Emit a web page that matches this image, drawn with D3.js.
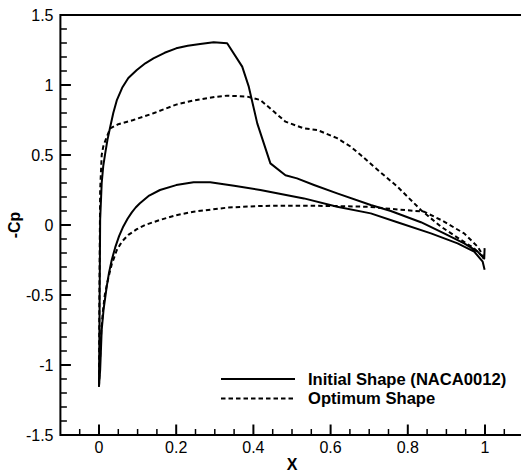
<!DOCTYPE html>
<html>
<head>
<meta charset="utf-8">
<script src="https://cdn.jsdelivr.net/npm/d3@7"></script>
<style>
  body { margin: 0; background: #fff; }
  text { font-family: "Liberation Sans", Arial, sans-serif; }
</style>
</head>
<body>
<div id="chart"></div>
<script>
// Initial shape (NACA0012), upper and lower surfaces, leading edge -> trailing edge
let initUpperX = [0, 0.001, 0.003, 0.007, 0.011, 0.016, 0.022, 0.029, 0.037, 0.046, 0.06, 0.076, 0.098, 0.12, 0.141, 0.17, 0.2, 0.23, 0.262, 0.297, 0.332, 0.371, 0.388, 0.41, 0.444, 0.483, 0.513, 0.557, 0.617, 0.704, 0.756, 0.834, 0.894, 0.946, 0.981, 0.998, 0.999];
let initUpperY = [-1.15, -0.8, 0.04, 0.3, 0.42, 0.51, 0.61, 0.7, 0.8, 0.89, 0.98, 1.05, 1.107, 1.155, 1.19, 1.23, 1.262, 1.28, 1.293, 1.305, 1.298, 1.131, 0.988, 0.726, 0.44, 0.355, 0.333, 0.286, 0.226, 0.143, 0.1, 0.02, -0.06, -0.131, -0.19, -0.24, -0.165];
let initLowerX = [0, 0.003, 0.007, 0.012, 0.02, 0.026, 0.033, 0.042, 0.052, 0.063, 0.074, 0.085, 0.095, 0.106, 0.13, 0.158, 0.2, 0.245, 0.288, 0.35, 0.418, 0.531, 0.617, 0.704, 0.773, 0.86, 0.929, 0.972, 0.994, 0.999];
let initLowerY = [-1.15, -1.036, -0.75, -0.6, -0.44, -0.34, -0.25, -0.16, -0.08, -0.01, 0.045, 0.09, 0.125, 0.155, 0.21, 0.25, 0.285, 0.305, 0.305, 0.28, 0.25, 0.19, 0.131, 0.083, 0.02, -0.06, -0.131, -0.19, -0.262, -0.32];

// Optimum shape
let optUpperX = [0, 0.001, 0.003, 0.007, 0.011, 0.016, 0.029, 0.05, 0.089, 0.141, 0.2, 0.245, 0.3, 0.332, 0.384, 0.418, 0.453, 0.483, 0.531, 0.565, 0.617, 0.652, 0.678, 0.712, 0.773, 0.834, 0.886, 0.938, 0.972, 0.994];
let optUpperY = [-1.15, -0.5, 0.25, 0.5, 0.56, 0.6, 0.69, 0.72, 0.75, 0.798, 0.86, 0.89, 0.915, 0.924, 0.917, 0.893, 0.81, 0.738, 0.69, 0.679, 0.62, 0.56, 0.5, 0.417, 0.274, 0.107, -0.012, -0.107, -0.167, -0.226];
let optLowerX = [0, 0.002, 0.006, 0.01, 0.015, 0.024, 0.033, 0.046, 0.059, 0.076, 0.098, 0.119, 0.158, 0.2, 0.245, 0.332, 0.418, 0.5, 0.6, 0.7, 0.756, 0.842, 0.886, 0.946, 0.981, 0.994, 0.998];
let optLowerY = [-1.15, -1.0, -0.75, -0.62, -0.5, -0.38, -0.28, -0.18, -0.12, -0.071, -0.03, 0.0, 0.036, 0.07, 0.095, 0.124, 0.136, 0.138, 0.136, 0.13, 0.115, 0.095, 0.036, -0.06, -0.155, -0.214, -0.26];

let xTicks = [0, 0.2, 0.4, 0.6, 0.8, 1];
let yTicks = [1.5, 1, 0.5, 0, -0.5, -1, -1.5];
let legendLabels = ["Initial Shape (NACA0012)", "Optimum Shape"];

// closed loop: trailing edge (upper) -> leading edge -> trailing edge (lower)
function loop(ux, uy, lx, ly) {
    let pts = ux.map((d, i) => [d, uy[i]]).reverse();
    return pts.concat(lx.map((d, i) => [d, ly[i]]).slice(1));
}
let series = [
    {name: legendLabels[0], pts: loop(initUpperX, initUpperY, initLowerX, initLowerY), dash: null},
    {name: legendLabels[1], pts: loop(optUpperX, optUpperY, optLowerX, optLowerY), dash: "4.5,3"}
];

let W = 521, H = 472;
let svg = d3.select("#chart").append("svg")
    .attr("width", W)
    .attr("height", H);

let x = d3.scaleLinear().domain([-0.1, 1.1]).range([60.4, 523.6]);
let y = d3.scaleLinear().domain([-1.5, 1.5]).range([435, 15]);

// curves
let line = d3.line().x(d => x(d[0])).y(d => y(d[1]));
svg.selectAll("path.curve")
    .data(series)
    .join("path")
    .attr("class", "curve")
    .attr("d", d => line(d.pts))
    .attr("fill", "none")
    .attr("stroke", "#000")
    .attr("stroke-width", 2)
    .attr("stroke-linejoin", "round")
    .attr("stroke-dasharray", d => d.dash);

// minor ticks
let xMinor = d3.range(-0.05, 1.1, 0.05).filter(v => Math.abs(v * 5 - Math.round(v * 5)) > 1e-6);
let yMinor = d3.range(-1.4, 1.5, 0.1).filter(v => Math.abs(v * 2 - Math.round(v * 2)) > 1e-6);

let axes = svg.append("g").attr("stroke", "#000");
axes.selectAll("line.xmaj").data(xTicks).join("line")
    .attr("x1", d => x(d)).attr("x2", d => x(d))
    .attr("y1", y(-1.5)).attr("y2", y(-1.5) - 10.5)
    .attr("stroke-width", 2);
axes.selectAll("line.xmin").data(xMinor).join("line")
    .attr("x1", d => x(d)).attr("x2", d => x(d))
    .attr("y1", y(-1.5)).attr("y2", y(-1.5) - 6)
    .attr("stroke-width", 1.5);
axes.selectAll("line.ymaj").data(yTicks).join("line")
    .attr("y1", d => y(d)).attr("y2", d => y(d))
    .attr("x1", x(-0.1)).attr("x2", x(-0.1) + 10.5)
    .attr("stroke-width", 2);
axes.selectAll("line.ymin").data(yMinor).join("line")
    .attr("y1", d => y(d)).attr("y2", d => y(d))
    .attr("x1", x(-0.1)).attr("x2", x(-0.1) + 6.5)
    .attr("stroke-width", 1.5);

// frame
svg.append("rect")
    .attr("x", x(-0.1)).attr("y", y(1.5))
    .attr("width", x(1.1) - x(-0.1)).attr("height", y(-1.5) - y(1.5))
    .attr("fill", "none")
    .attr("stroke", "#000")
    .attr("stroke-width", 2);

// tick labels
svg.selectAll("text.xl").data(xTicks).join("text")
    .attr("x", d => x(d)).attr("y", 453)
    .attr("text-anchor", "middle")
    .style("font-size", "16px")
    .text(d => d);
svg.selectAll("text.yl").data(yTicks).join("text")
    .attr("x", 53.5).attr("y", d => y(d) + 6)
    .attr("text-anchor", "end")
    .style("font-size", "16px")
    .text(d => d);

// axis titles
svg.append("text")
    .attr("x", (x(-0.1) + x(1.1)) / 2).attr("y", 470)
    .attr("text-anchor", "middle")
    .style("font-size", "16px").style("font-weight", "bold")
    .text("X");
svg.append("text")
    .attr("transform", "translate(20," + y(0) + ") rotate(-90)")
    .attr("text-anchor", "middle")
    .style("font-size", "16px").style("font-weight", "bold")
    .text("-Cp");

// legend
let legend = svg.selectAll(".legend")
    .data(series)
    .join("g")
    .attr("class", "legend")
    .attr("transform", (d, i) => "translate(221," + (379 + i * 19.5) + ")");
legend.append("line")
    .attr("x1", 0).attr("x2", 74)
    .attr("stroke", "#000")
    .attr("stroke-width", 2)
    .attr("stroke-dasharray", d => d.dash);
legend.append("text")
    .attr("x", 87).attr("y", 5.8)
    .style("font-size", "16.6px").style("font-weight", "bold")
    .text(d => d.name);
</script>
</body>
</html>
